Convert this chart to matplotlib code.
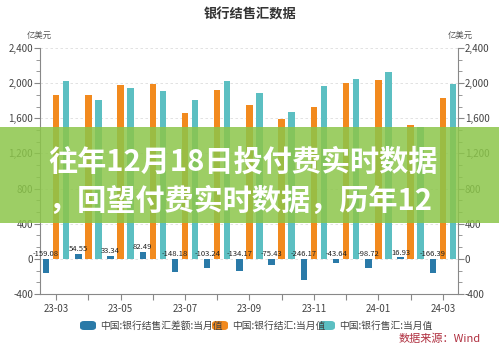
import matplotlib
matplotlib.use("Agg")
import matplotlib.pyplot as plt
from matplotlib.patches import Rectangle, FancyBboxPatch
import numpy as np

plt.rcParams['font.family'] = ['Noto Sans CJK SC', 'DejaVu Sans']

months = ["23-03", "23-04", "23-05", "23-06", "23-07", "23-08", "23-09",
          "23-10", "23-11", "23-12", "24-01", "24-02", "24-03"]
net = [-159.08, 54.55, 33.34, 82.49, -148.18, -103.24, -134.17,
       -75.43, -246.17, -43.64, -98.72, 16.93, -166.39]
settle = [1866, 1862, 1980, 1993, 1664, 1923, 1755, 1593, 1724, 2006, 2031, 1522, 1828]
sale = [2025, 1808, 1947, 1911, 1812, 2026, 1888, 1668, 1970, 2048, 2130, 1505, 1994]
yticks = [-400, 0, 400, 800, 1200, 1600, 2000, 2400]
legend_labels = ["中国:银行结售汇差额:当月值", "中国:银行结汇:当月值", "中国:银行售汇:当月值"]
title = "银行结售汇数据"
unit = "亿美元"
source = "数据来源：Wind"
banner_lines = ["往年12月18日投付费实时数据", "，回望付费实时数据，历年12"]

c_net = "#2a7aa8"
c_settle = "#f28a1e"
c_sale = "#5cbfc2"

fig = plt.figure(figsize=(4.99, 3.53), dpi=100)
ax = fig.add_axes([40/499, 1-294/353, 418/499, 246/353])

x = np.arange(len(months))
w = 0.2
off = 0.31
ax.bar(x - off, net, w, color=c_net, zorder=3)
ax.bar(x, settle, w, color=c_settle, zorder=3)
ax.bar(x + off, sale, w, color=c_sale, zorder=3)

for xi, v in zip(x, net):
    ax.text(xi - off, max(v, 0) + 8, f"{v:.2f}", ha="center", va="bottom",
            fontsize=5.5, color="#222222", zorder=4)

ax.set_xlim(-0.5, 12.47)
ax.set_ylim(-400, 2400)
ax.set_yticks(yticks)
ax.set_yticklabels([f"{v:,}" for v in yticks])
ax.set_yticks(np.arange(-400, 2401, 400/3), minor=True)
ax.set_xticks(x)
ax.set_xticklabels([m if i % 2 == 0 else "" for i, m in enumerate(months)])
ax.grid(axis="y", which="major", linestyle=(0, (3, 3)), color="#dddddd", linewidth=0.6, zorder=0)
for s in ["top", "right"]:
    ax.spines[s].set_visible(False)
for s in ["left", "bottom"]:
    ax.spines[s].set_color("#888888")
    ax.spines[s].set_linewidth(0.8)
ax.tick_params(axis="both", colors="#888888", labelcolor="#444444", labelsize=7, length=4, width=0.8)
ax.tick_params(axis="y", which="minor", length=3, width=0.6, colors="#888888")
ax.tick_params(axis="y", pad=1)

ax2 = ax.twinx()
ax2.set_ylim(-400, 2400)
ax2.set_yticks(yticks)
ax2.set_yticklabels([f"{v:,}" for v in yticks])
ax2.set_yticks(np.arange(-400, 2401, 400/3), minor=True)
for s in ["top", "left", "bottom"]:
    ax2.spines[s].set_visible(False)
ax2.spines["right"].set_color("#888888")
ax2.spines["right"].set_linewidth(0.8)
ax2.tick_params(axis="y", colors="#888888", labelcolor="#444444", labelsize=7, length=4, width=0.8, pad=1)
ax2.tick_params(axis="y", which="minor", length=3, width=0.6, colors="#888888")

fig.text(250/499, 1-15/353, title, ha="center", va="center", fontsize=9.5, color="#333333", fontweight="bold")
fig.text(39/499, 1-35/353, unit, ha="center", va="center", fontsize=6, color="#555555")
fig.text(460/499, 1-35/353, unit, ha="center", va="center", fontsize=6, color="#555555")

# legend
leg_x = [80, 212, 319]
for lx, lab, col in zip(leg_x, legend_labels, [c_net, c_settle, c_sale]):
    p = FancyBboxPatch((lx/499, 1-330/353), 16/499, 9/353,
                       boxstyle="round,pad=0,rounding_size=0.008",
                       transform=fig.transFigure, facecolor=col, edgecolor="none")
    fig.patches.append(p)
    fig.text((lx + 20)/499, 1-325.5/353, lab, ha="left", va="center", fontsize=7, color="#444444")

fig.text(440/499, 1-339/353, source, ha="center", va="center", fontsize=8, color="#b03040")

# banner overlay
band = Rectangle((0, 1-223/353), 1, 96/353, transform=fig.transFigure,
                 facecolor="#8cc64a", alpha=0.85, edgecolor="none", zorder=10)
fig.patches.append(band)
fig.text(48/499, 1-162/353, banner_lines[0], ha="left", va="center", fontsize=21,
         color="white", fontweight="bold", zorder=11)
fig.text(48/499, 1-201/353, banner_lines[1], ha="left", va="center", fontsize=21,
         color="white", fontweight="bold", zorder=11)

fig.savefig("out.png", dpi=100)
